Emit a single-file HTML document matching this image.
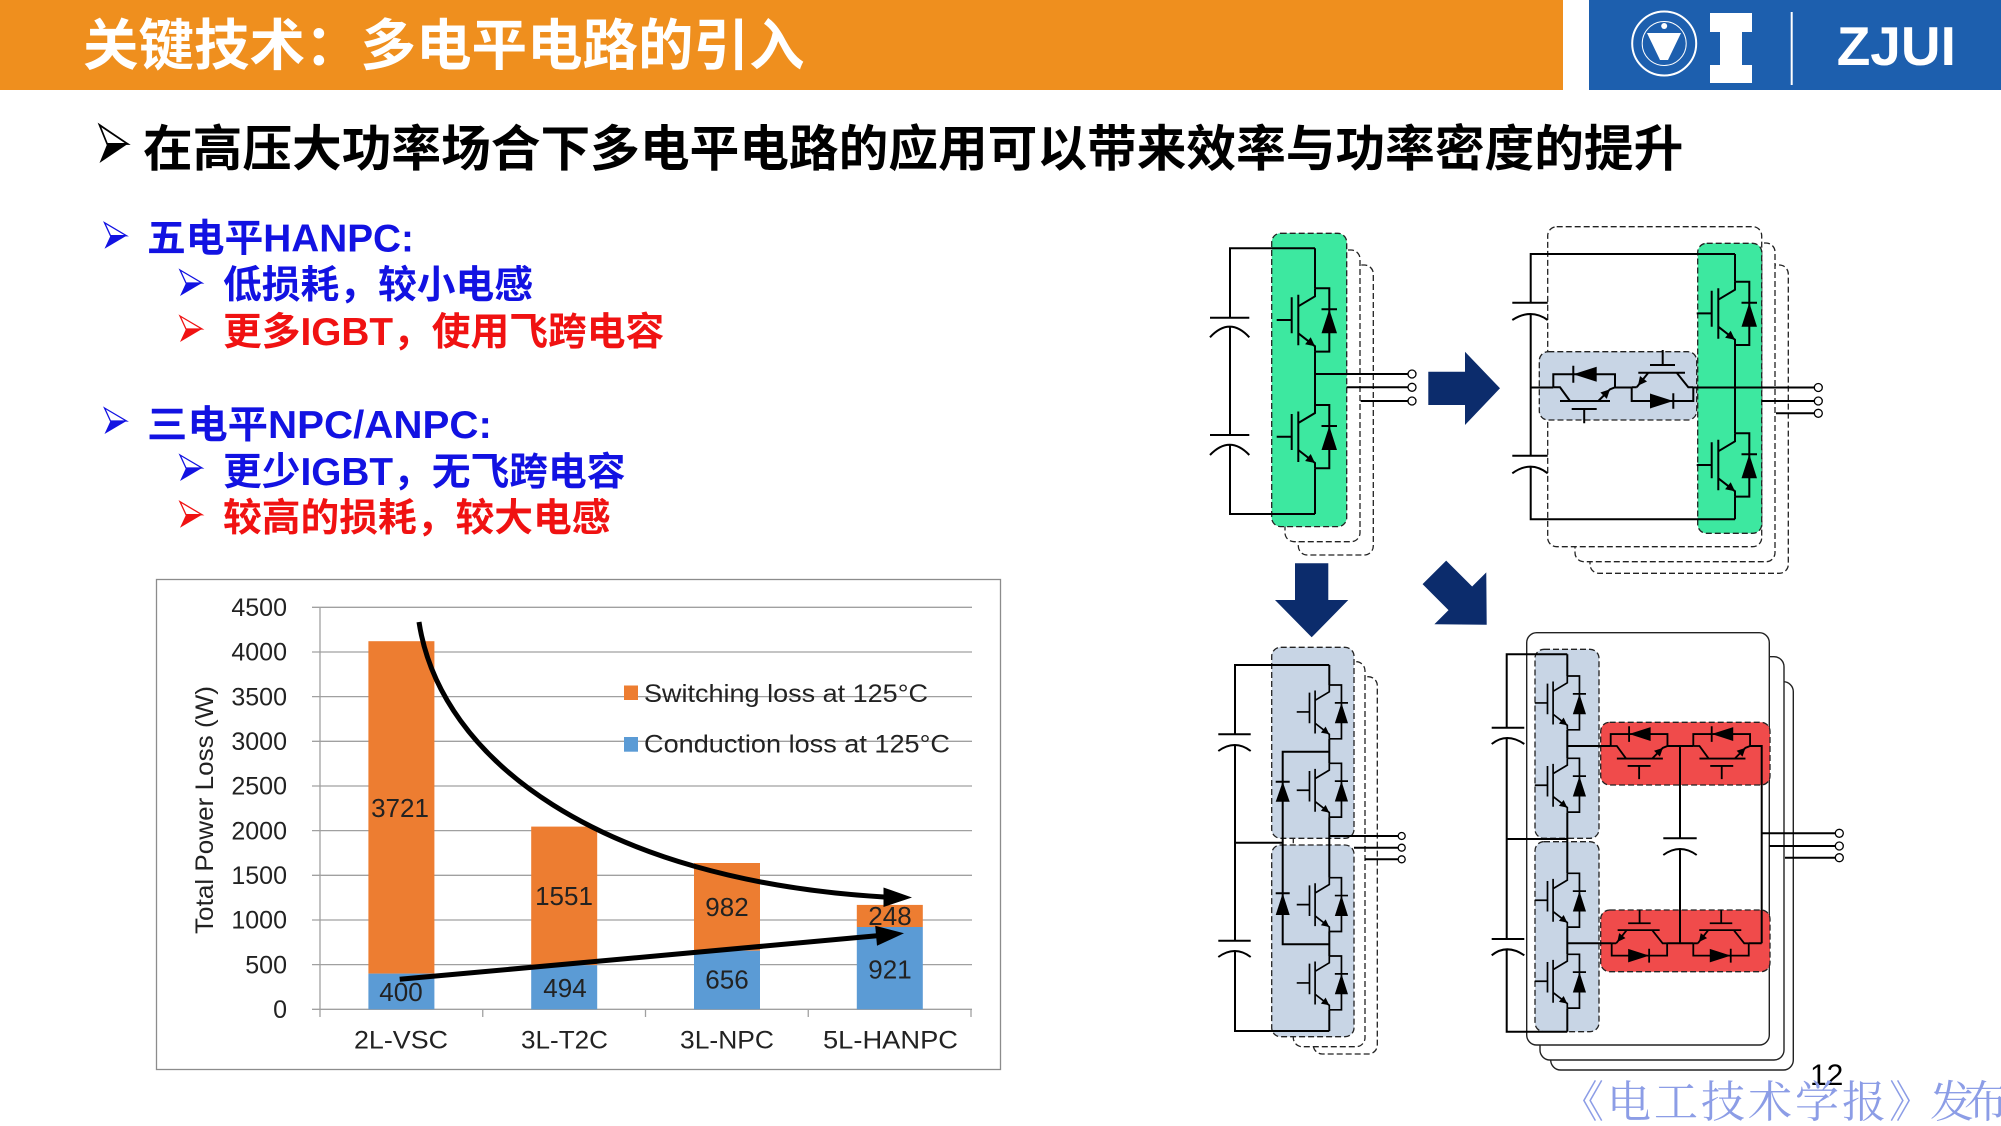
<!DOCTYPE html>
<html>
<head>
<meta charset="utf-8">
<style>
html,body{margin:0;padding:0;background:#fff;}
svg{display:block;}
</style>
</head>
<body>
<svg width="2001" height="1126" viewBox="0 0 2001 1126" xmlns="http://www.w3.org/2000/svg">
<defs>
  <g id="uv">
    <path d="M0,0 V8 L-16.7,18 M-16.7,6.5 V57 M-23.3,9 V45 M-38.3,31.7 H-23.3 M-16.7,45 L0,58 V63.3 M0,0 H14.3 V63.3 H0 M6.5,21 H22" fill="none" stroke="#000" stroke-width="2"/>
    <polygon points="14.3,21 6.5,45 22,45" fill="#000"/>
    <polygon points="0,58 -9.9,56 -4.3,49" fill="#000"/>
  </g>
  <g id="swa">
    <path d="M0,0 V-13 H61.7 V0 M0,0 H6.7 L16.7,13.7 M6.7,13.7 H56.7 M18.4,21.7 H43.4 M30.9,21.7 V36 M45,13.7 L56.7,2 L61.7,0 M20,-21.5 V-4.5" fill="none" stroke="#000" stroke-width="2"/>
    <polygon points="20,-13 43.4,-20.5 43.4,-5.5" fill="#000"/>
    <polygon points="56.7,2 53.5,11.6 47.1,5.2" fill="#000"/>
  </g>
  <g id="swb">
    <path d="M0,0 H5 M0,0 V13.7 H61.6 V0 M6.6,-14.6 H53.3 M18.3,-22.3 H43.3 M31,-37.3 V-22.3 M16.6,-14.6 L5,0 M45,-14.6 L56.6,0 H61.6 M41.6,6 V21.5" fill="none" stroke="#000" stroke-width="2"/>
    <polygon points="41.6,13.7 18.3,6.2 18.3,21.2" fill="#000"/>
    <polygon points="6.2,-1.5 15.3,-5.75 8.3,-11.35" fill="#000"/>
  </g>
  <g id="bul">
    <path d="M0,0 L22,13 L6,13 Z" fill="#fff" stroke="currentColor" stroke-width="1.3"/>
    <path d="M6,13 L22,13 L0,26 Z" fill="currentColor"/>
  </g>
</defs>

<!-- Header -->
<rect x="0" y="0" width="1563" height="90" fill="#ef8f1e"/>
<rect x="1589" y="0" width="412" height="90" fill="#1d5fae"/>
<text x="83" y="65" font-family="'Liberation Sans','Noto Sans CJK SC',sans-serif" font-weight="bold" font-size="55.5" fill="#fff">关键技术：多电平电路的引入</text>
<!-- logo -->
<circle cx="1664.2" cy="43.5" r="32" fill="none" stroke="#fff" stroke-width="2"/>
<circle cx="1664.2" cy="43.5" r="22" fill="none" stroke="#fff" stroke-width="1"/>
<polygon points="1647,33 1681,33 1668,60 1660,60" fill="#fff"/>
<circle cx="1664.2" cy="26" r="3" fill="#fff"/>
<polygon points="1710,13 1752,13 1752,32 1742,32 1742,65 1752,65 1752,83 1710,83 1710,65 1720,65 1720,32 1710,32" fill="#fff"/>
<rect x="1790.7" y="12" width="2" height="73" fill="#fff"/>
<text x="1836.7" y="65" font-family="'Liberation Sans',sans-serif" font-weight="bold" font-size="55" fill="#fff">ZJUI</text>

<!-- Subtitle -->
<use href="#bul" transform="translate(99.5,125) scale(1.28,1.46)" color="#000"/>
<text x="143" y="166" font-family="'Liberation Sans','Noto Sans CJK SC',sans-serif" font-weight="bold" font-size="49.7" fill="#000">在高压大功率场合下多电平电路的应用可以带来效率与功率密度的提升</text>

<!-- Bullets -->
<g font-family="'Liberation Sans','Noto Sans CJK SC',sans-serif" font-weight="bold" font-size="38.75">
  <use href="#bul" transform="translate(104.5,222.7)" color="#1212e2"/>
  <text x="147" y="251.5" fill="#1212e2">五电平HANPC:</text>
  <use href="#bul" transform="translate(180,270)" color="#1212e2"/>
  <text x="223" y="298" fill="#1212e2">低损耗，较小电感</text>
  <use href="#bul" transform="translate(180,316)" color="#f01212"/>
  <text x="223" y="345" fill="#f01212">更多IGBT，使用飞跨电容</text>
  <use href="#bul" transform="translate(104.5,408)" color="#1212e2"/>
  <text x="147" y="438" fill="#1212e2" textLength="345" lengthAdjust="spacingAndGlyphs">三电平NPC/ANPC:</text>
  <use href="#bul" transform="translate(180,455)" color="#1212e2"/>
  <text x="223" y="485" fill="#1212e2">更少IGBT，无飞跨电容</text>
  <use href="#bul" transform="translate(180,501.7)" color="#f01212"/>
  <text x="223" y="531" fill="#f01212">较高的损耗，较大电感</text>
</g>

<!-- Chart -->
<rect x="156.5" y="579.5" width="844" height="490" fill="#fff" stroke="#8c8c8c" stroke-width="1.3"/>
<g stroke="#a0a0a0" stroke-width="1.3">
  <line x1="312" y1="964.6" x2="972" y2="964.6"/>
  <line x1="312" y1="920" x2="972" y2="920"/>
  <line x1="312" y1="875.3" x2="972" y2="875.3"/>
  <line x1="312" y1="830.6" x2="972" y2="830.6"/>
  <line x1="312" y1="786" x2="972" y2="786"/>
  <line x1="312" y1="741.3" x2="972" y2="741.3"/>
  <line x1="312" y1="696.6" x2="972" y2="696.6"/>
  <line x1="312" y1="652" x2="972" y2="652"/>
  <line x1="312" y1="607.3" x2="972" y2="607.3"/>
  <line x1="312" y1="1009.3" x2="972" y2="1009.3"/>
  <line x1="320" y1="607.3" x2="320" y2="1017"/>
  <line x1="482.75" y1="1009.3" x2="482.75" y2="1017"/>
  <line x1="645.5" y1="1009.3" x2="645.5" y2="1017"/>
  <line x1="808.25" y1="1009.3" x2="808.25" y2="1017"/>
  <line x1="971" y1="1009.3" x2="971" y2="1017"/>
</g>
<!-- bars -->
<rect x="368.4" y="641.2" width="66" height="332.4" fill="#ed7d31"/>
<rect x="368.4" y="973.6" width="66" height="35.7" fill="#5b9bd5"/>
<rect x="531.2" y="826.6" width="66" height="138.6" fill="#ed7d31"/>
<rect x="531.2" y="965.2" width="66" height="44.1" fill="#5b9bd5"/>
<rect x="694" y="863" width="66" height="87.7" fill="#ed7d31"/>
<rect x="694" y="950.7" width="66" height="58.6" fill="#5b9bd5"/>
<rect x="856.8" y="904.9" width="66" height="22.1" fill="#ed7d31"/>
<rect x="856.8" y="927" width="66" height="82.3" fill="#5b9bd5"/>

<g font-family="'Liberation Sans',sans-serif" font-size="25" fill="#222">
  <g text-anchor="end">
    <text x="287" y="1018">0</text>
    <text x="287" y="973.3">500</text>
    <text x="287" y="928.7">1000</text>
    <text x="287" y="884">1500</text>
    <text x="287" y="839.3">2000</text>
    <text x="287" y="794.7">2500</text>
    <text x="287" y="750">3000</text>
    <text x="287" y="705.3">3500</text>
    <text x="287" y="660.7">4000</text>
    <text x="287" y="616">4500</text>
  </g>
  <g text-anchor="middle" font-size="26">
    <text x="400" y="817">3721</text>
    <text x="401" y="1001">400</text>
    <text x="564" y="905">1551</text>
    <text x="565" y="997">494</text>
    <text x="727" y="916">982</text>
    <text x="727" y="988.5">656</text>
    <text x="890" y="925">248</text>
    <text x="890" y="978.5">921</text>
  </g>
  <text x="354" y="1048.5" textLength="94" lengthAdjust="spacingAndGlyphs">2L-VSC</text>
  <text x="521" y="1048.5" textLength="87" lengthAdjust="spacingAndGlyphs">3L-T2C</text>
  <text x="680" y="1048.5" textLength="94" lengthAdjust="spacingAndGlyphs">3L-NPC</text>
  <text x="823" y="1048.5" textLength="135" lengthAdjust="spacingAndGlyphs">5L-HANPC</text>
  <rect x="624" y="685.5" width="14" height="14.5" fill="#ed7d31"/>
  <text x="644" y="702" textLength="284" lengthAdjust="spacingAndGlyphs">Switching loss at 125°C</text>
  <rect x="624" y="737" width="14" height="14.7" fill="#5b9bd5"/>
  <text x="644" y="752.5" textLength="306" lengthAdjust="spacingAndGlyphs">Conduction loss at 125°C</text>
  <text transform="translate(213,810) rotate(-90)" text-anchor="middle" textLength="248" lengthAdjust="spacingAndGlyphs">Total Power Loss (W)</text>
</g>
<!-- chart arrows -->
<path d="M419,622 C440,760 600,880 884,897" fill="none" stroke="#000" stroke-width="5"/>
<polygon points="912,897.5 883.5,887.5 883.5,907" fill="#000"/>
<line x1="399.7" y1="979.3" x2="877" y2="935.8" stroke="#000" stroke-width="5"/>
<polygon points="904,933.3 877,945.8 875.2,925.8" fill="#000"/>

<!-- Circuit 1 -->
<g stroke="#222" stroke-width="1.3" stroke-dasharray="6 3">
  <rect x="1298.3" y="265" width="75" height="290" rx="9" fill="#fff"/>
  <rect x="1285" y="250" width="75" height="291.7" rx="9" fill="#fff"/>
  <rect x="1271.7" y="233.3" width="75" height="293.3" rx="9" fill="#3de8a0"/>
</g>
<path d="M1315,248.3 H1230 V317.7 M1210,317.7 H1249.3 M1210,337.3 Q1229.7,316 1249.3,337.3 M1230,326.7 V435 M1210,435 H1249.3 M1210,455 Q1229.7,434.5 1249.3,455 M1230,445 V514 H1315 M1315,248.3 V288.3 M1315,351.6 V405 M1315,468.3 V514 M1315,374 H1408 M1346.7,387.3 H1408 M1360.7,401 H1408" fill="none" stroke="#000" stroke-width="2"/>
<use href="#uv" transform="translate(1315,288.3)"/>
<use href="#uv" transform="translate(1315,405)"/>
<g fill="#fff" stroke="#000" stroke-width="1.3">
  <circle cx="1412" cy="374" r="4"/>
  <circle cx="1412" cy="387.3" r="4"/>
  <circle cx="1412" cy="401" r="4"/>
</g>

<!-- Arrows -->
<polygon points="1428.3,371.7 1465,371.7 1465,351.7 1500,388.3 1465,425 1465,405 1428.3,405" fill="#0c2c6c"/>
<polygon points="1295,563.3 1328.3,563.3 1328.3,600 1348.3,600 1311.7,637.3 1275,600 1295,600" fill="#0c2c6c"/>
<g transform="translate(1486.7,624.7) rotate(-45)">
  <polygon points="-16.7,-74 16.7,-74 16.7,-37.3 36.7,-37.3 0,0 -36.7,-37.3 -16.7,-37.3" fill="#0c2c6c"/>
</g>

<!-- Circuit 2 -->
<g stroke="#222" stroke-width="1.3" stroke-dasharray="6 3">
  <rect x="1590" y="265" width="198.3" height="308.3" rx="9" fill="#fff"/>
  <rect x="1575" y="243" width="200" height="318.7" rx="9" fill="#fff"/>
  <rect x="1547.7" y="226.7" width="214" height="320" rx="9" fill="#fff"/>
  <rect x="1539.3" y="351.7" width="157.4" height="68.3" rx="9" fill="#c8d5e5"/>
  <rect x="1697.7" y="243.3" width="64" height="290" rx="9" fill="#3de8a0"/>
</g>
<path d="M1735,254 H1530.7 V302.7 M1512.3,302.7 H1547.7 M1512.3,320 Q1530.7,308 1547.7,320 M1530.7,314 V455.7 M1512.3,455.7 H1547.7 M1512.3,473.3 Q1530.7,460 1547.7,473.3 M1530.7,466.7 V519.3 H1735 M1735,254 V281.7 M1735,345 V433.3 M1735,496.6 V519.3 M1530.7,387.5 H1553.3 M1615,387.5 H1631.7 M1693.3,387.5 H1814.3 M1761.7,401 H1814.3 M1776,413.3 H1814.3" fill="none" stroke="#000" stroke-width="2"/>
<use href="#uv" transform="translate(1735,281.7)"/>
<use href="#uv" transform="translate(1735,433.3)"/>
<use href="#swa" transform="translate(1553.3,387.3)"/>
<use href="#swb" transform="translate(1631.7,387.3)"/>
<g fill="#fff" stroke="#000" stroke-width="1.3">
  <circle cx="1818.3" cy="387.5" r="4"/>
  <circle cx="1818.3" cy="401" r="4"/>
  <circle cx="1818.3" cy="413.3" r="4"/>
</g>

<!-- Circuit 3 -->
<g stroke="#222" stroke-width="1.3" stroke-dasharray="6 3">
  <rect x="1313.3" y="676.7" width="64" height="377.3" rx="9" fill="#fff"/>
  <rect x="1293.3" y="661.7" width="71.7" height="385" rx="9" fill="#fff"/>
  <rect x="1271.7" y="647.3" width="82.3" height="191" rx="9" fill="#c8d5e5"/>
  <rect x="1271.7" y="845" width="82.3" height="191.7" rx="9" fill="#c8d5e5"/>
</g>
<path d="M1329.3,665 H1235 V734.3 M1218.3,734.3 H1250.7 M1218.3,751 Q1235,739 1250.7,751 M1235,745 V940.7 M1218.3,940.7 H1250.7 M1218.3,957 Q1235,945 1250.7,957 M1235,951 V1031 H1329.3 M1235,842.7 H1282.7 M1329.3,665 V685 M1329.3,738.8 V763.3 M1329.3,817.1 V877.7 M1329.3,931.5 V956 M1329.3,1009.8 V1031 M1329.3,751.7 H1282.7 V944.3 H1329.3 M1275.7,781.7 H1289.7 M1275.7,893.3 H1289.7 M1329.3,836 H1398 M1354,847.7 H1398 M1365,859.3 H1398" fill="none" stroke="#000" stroke-width="2"/>
<polygon points="1282.7,781.7 1275.7,801.7 1289.7,801.7" fill="#000"/>
<polygon points="1282.7,893.3 1275.7,915 1289.7,915" fill="#000"/>
<use href="#uv" transform="translate(1329.3,685) scale(0.85)"/>
<use href="#uv" transform="translate(1329.3,763.3) scale(0.85)"/>
<use href="#uv" transform="translate(1329.3,877.7) scale(0.85)"/>
<use href="#uv" transform="translate(1329.3,956) scale(0.85)"/>
<g fill="#fff" stroke="#000" stroke-width="1.3">
  <circle cx="1401.7" cy="836" r="3.5"/>
  <circle cx="1401.7" cy="847.7" r="3.5"/>
  <circle cx="1401.7" cy="859.3" r="3.5"/>
</g>

<!-- Circuit 4 -->
<g stroke="#222" stroke-width="1.4" fill="#fff">
  <rect x="1550.7" y="681.7" width="242.6" height="388.3" rx="10"/>
  <rect x="1540" y="656.7" width="244" height="403.3" rx="10"/>
  <rect x="1526.7" y="632.7" width="242.6" height="412.3" rx="10"/>
</g>
<g stroke="#222" stroke-width="1.3" stroke-dasharray="6 3">
  <rect x="1535" y="649.3" width="64" height="189" rx="9" fill="#c8d5e5"/>
  <rect x="1535" y="841.7" width="64" height="190" rx="9" fill="#c8d5e5"/>
  <rect x="1600.7" y="722.3" width="169.3" height="62.7" rx="9" fill="#f04b4b"/>
  <rect x="1600.7" y="910" width="169.3" height="61.7" rx="9" fill="#f04b4b"/>
</g>
<path d="M1567.3,654.3 H1506.7 V727.7 M1491.7,727.7 H1524.3 M1491.7,744 Q1506.7,732 1524.3,744 M1506.7,738 V939 M1491.7,939 H1524.3 M1491.7,955.3 Q1506.7,943.3 1524.3,955.3 M1506.7,949.3 V1031.7 H1567.3 M1506.7,839 H1567.3 M1567.3,654.3 V676 M1567.3,730 V758.3 M1567.3,812.3 V873.3 M1567.3,927.3 V954.3 M1567.3,1008.3 V1031.7 M1567.3,746 H1610.7 M1667.5,746 H1693.3 M1750,746 H1761.7 V943.3 M1680,746 V838.3 M1663.3,838.3 H1696.7 M1663.3,855 Q1680,843 1696.7,855 M1680,849 V943.3 M1567.3,943.3 H1611.7 M1667.1,943.3 H1693.3 M1748.7,943.3 H1761.7 M1761.7,833.3 H1835 M1769.3,846 H1835 M1785,857.7 H1835" fill="none" stroke="#000" stroke-width="2"/>
<use href="#uv" transform="translate(1567.3,676) scale(0.85)"/>
<use href="#uv" transform="translate(1567.3,758.3) scale(0.85)"/>
<use href="#uv" transform="translate(1567.3,873.3) scale(0.85)"/>
<use href="#uv" transform="translate(1567.3,954.3) scale(0.85)"/>
<use href="#swa" transform="translate(1610.7,746) scale(0.92)"/>
<use href="#swa" transform="translate(1693.3,746) scale(0.92)"/>
<use href="#swb" transform="translate(1611.7,943.3) scale(0.9)"/>
<use href="#swb" transform="translate(1693.3,943.3) scale(0.9)"/>
<g fill="#fff" stroke="#000" stroke-width="1.3">
  <circle cx="1839.3" cy="833.3" r="4"/>
  <circle cx="1839.3" cy="846" r="4"/>
  <circle cx="1839.3" cy="857.7" r="4"/>
</g>

<!-- Page number & watermark -->
<text x="1810" y="1085" font-family="'Liberation Sans',sans-serif" font-size="30" fill="#000">12</text>
<g font-family="'Liberation Serif','Noto Serif CJK SC',serif" font-size="44" fill="#8c9de6">
  <text x="1560" y="1117" letter-spacing="3">《电工技术学报》</text>
  <text x="1930" y="1117">发</text>
  <text x="1964" y="1117">布</text>
</g>
</svg>
</body>
</html>
